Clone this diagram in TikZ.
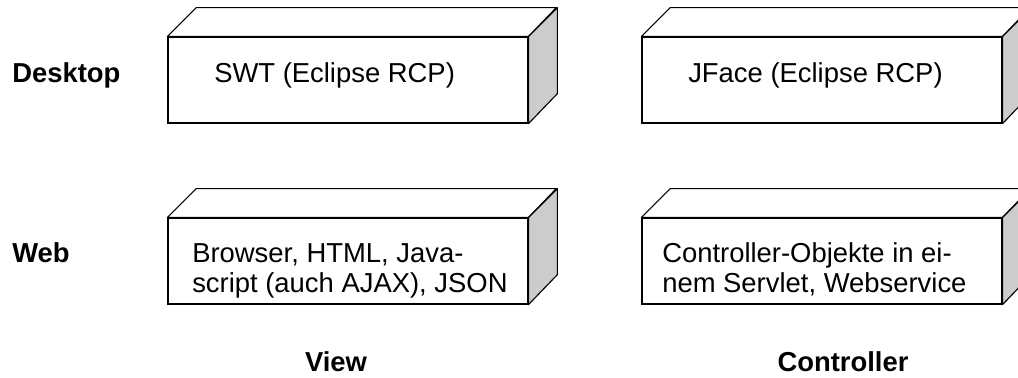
\documentclass[tikz,border=0pt]{standalone}
\usepackage{fontspec}
\setmainfont{Liberation Sans}
\usepackage{tikz}
\usetikzlibrary{positioning,calc}

\begin{document}
\begin{tikzpicture}[
  front/.style={draw, thick, rectangle, fill=white, minimum width=9cm, minimum height=2.15cm, inner sep=0pt},
  topface/.style={draw, thick, fill=white, line join=round},
  sideface/.style={draw, thick, fill=black!20, line join=round},
  txt/.style={font=\fontsize{19.5}{21.3}\selectfont, align=left, anchor=base west, inner sep=0pt},
  lbl/.style={font=\fontsize{19.5}{21.3}\selectfont\bfseries, inner sep=0pt}
]
\useasboundingbox (0,0) rectangle (25.45,9.425);

% ================= BOXES =================
\node[front] (swt) at (8.7,7.425) {};
\node[front] (html) at (8.7,2.9) {};
\node[front] (jface) at (20.55,7.425) {};
\node[front] (ctrl) at (20.55,2.9) {};

% top and side faces
\foreach \b in {swt,html,jface,ctrl} {
  \draw[topface] (\b.north west) -- ++(0.72,0.72) -- ++(9,0) -- (\b.north east) -- cycle;
  \draw[sideface] (\b.north east) -- ++(0.72,0.72) -- ++(0,-2.15) -- (\b.south east) -- cycle;
}

% ================= TEXTS =================
\node[txt] (swtT) at (5.35,7.375) {SWT (Eclipse RCP)};
\node[txt] (htmlT) at (4.8,2.125) {Browser, HTML, Java-\\script (auch AJAX), JSON};
\node[txt] (jfaceT) at (17.2,7.375) {JFace (Eclipse RCP)};
\node[txt] (ctrlT) at (16.55,2.125) {Controller-Objekte in ei-\\nem Servlet, Webservice};

% ================= LABELS =================
\node[lbl, anchor=base west] (desk) at (0.3,7.375) {Desktop};
\node[lbl, anchor=base west] (web) at (0.3,2.875) {Web};
\node[lbl, anchor=base] (view) at (8.4,0.13) {View};
\node[lbl, anchor=base] (contr) at (21.075,0.13) {Controller};

\end{tikzpicture}
\end{document}
